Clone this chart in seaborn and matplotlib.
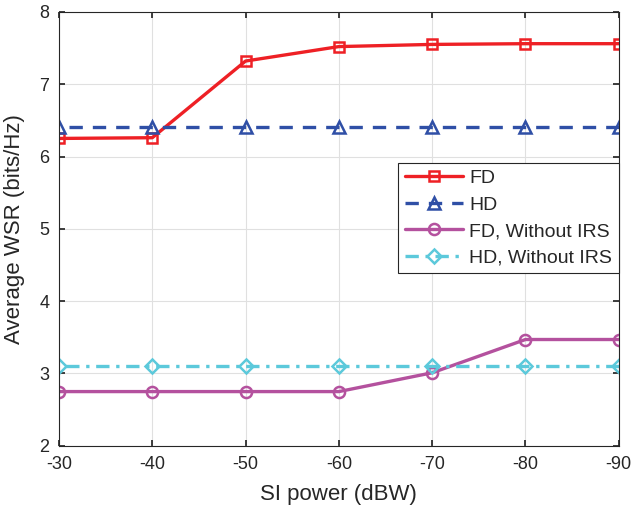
import numpy as np
import pandas as pd
import matplotlib
matplotlib.use("Agg")
import matplotlib.pyplot as plt
import seaborn as sns

si_power = [-30, -40, -50, -60, -70, -80, -90]
fd = [6.25, 6.26, 7.32, 7.52, 7.55, 7.56, 7.56]
hd = [6.41, 6.41, 6.41, 6.41, 6.41, 6.41, 6.41]
fd_no_irs = [2.75, 2.75, 2.75, 2.75, 3.01, 3.47, 3.47]
hd_no_irs = [3.10, 3.10, 3.10, 3.10, 3.10, 3.10, 3.10]

series = [
    ("FD", fd, "#EE2025", "-", "s", 7),
    ("HD", hd, "#2F4FA6", (0, (4, 3)), "^", 9),
    ("FD, Without IRS", fd_no_irs, "#B4519E", "-", "o", 8),
    ("HD, Without IRS", hd_no_irs, "#5CC9DB", (0, (4, 2, 1, 2)), "D", 7),
]

sns.set_theme(style="white")
plt.rcParams['font.family'] = ['Liberation Sans', 'DejaVu Sans']
plt.rcParams['axes.unicode_minus'] = False

fig, ax = plt.subplots(figsize=(6.34, 5.16), dpi=100)

for name, vals, color, ls, mk, ms in series:
    df = pd.DataFrame({"x": si_power, "y": vals})
    sns.lineplot(data=df, x="x", y="y", ax=ax, color=color, linestyle=ls,
                 linewidth=2.4, marker=mk, markersize=ms, markerfacecolor="none",
                 markeredgecolor=color, markeredgewidth=1.8, label=name)

ax.set_xlim(-30, -90)
ax.set_ylim(2, 8)
ax.set_xticks(si_power)
ax.set_xticklabels([str(v) for v in si_power])
ax.set_yticks(np.arange(2, 9, 1))
ax.grid(True, color="#E0E0E0", linewidth=0.8)
for sp in ax.spines.values():
    sp.set_color("#262626")
    sp.set_linewidth(0.8)
ax.tick_params(axis="both", direction="in", length=4, colors="#262626",
               labelsize=13, pad=7, left=True, bottom=True, top=True, right=True)
ax.set_xlabel("SI power (dBW)", fontsize=16, color="#262626", labelpad=8)
ax.set_ylabel("Average WSR (bits/Hz)", fontsize=16, color="#262626", labelpad=10)

leg = ax.legend(loc="upper right", bbox_to_anchor=(1.0, 0.652), borderaxespad=0,
                fontsize=14, frameon=True, fancybox=False, framealpha=1,
                edgecolor="#262626", handlelength=3.0, handletextpad=0.3,
                borderpad=0.35, labelspacing=0.45)
leg.get_frame().set_linewidth(0.8)

plt.subplots_adjust(left=0.093, right=0.976, top=0.977, bottom=0.136)
plt.savefig("out.png", dpi=100)
